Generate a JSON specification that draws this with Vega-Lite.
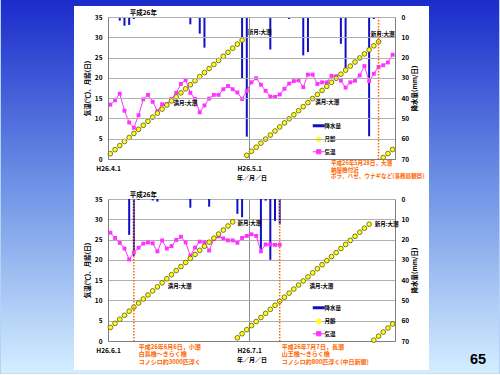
{
"$schema": "https://vega.github.io/schema/vega-lite/v6.json",
"padding": 0,
"background": "#b4d2f6",
"bounds": "flush",
"spacing": 40,
"config": {
  "font": "Noto Sans CJK JP",
  "view": {"stroke": null},
  "scale": {"continuousPadding": 0},
  "axis": {"labelFont": "Noto Sans CJK JP", "labelFontSize": 6.5, "labelFontWeight": "bold", "labelColor": "#000000", "titleFont": "Noto Sans CJK JP", "titleFontSize": 6.5, "titleFontWeight": "bold", "titleColor": "#000000", "ticks": false, "domainColor": "#7f7f7f", "gridColor": "#b0b0b0", "gridWidth": 1, "labelOverlap": false},
  "text": {"font": "Noto Sans CJK JP", "fontWeight": "bold", "color": "#000000"}
},
"resolve": {"scale": {"color": "independent"}, "legend": {"color": "independent"}},
"vconcat": [
{
  "width": 287, "height": 142,
  "data": {"values": [
    {"date":"2014-04-01","t":13.4,"m":1.3},
    {"date":"2014-04-02","t":14.5,"m":2.3},
    {"date":"2014-04-03","t":16.1,"m":3.3,"p":1.8},
    {"date":"2014-04-04","t":11.9,"m":4.3,"p":4.3},
    {"date":"2014-04-05","t":9.0,"m":5.3,"p":3.9},
    {"date":"2014-04-06","t":7.7,"m":6.3,"p":1.0},
    {"date":"2014-04-07","t":10.8,"m":7.3},
    {"date":"2014-04-08","t":14.7,"m":8.3},
    {"date":"2014-04-09","t":15.8,"m":9.3},
    {"date":"2014-04-10","t":14.1,"m":10.3},
    {"date":"2014-04-11","t":11.8,"m":11.3},
    {"date":"2014-04-12","t":13.5,"m":12.3},
    {"date":"2014-04-13","t":13.5,"m":13.3},
    {"date":"2014-04-14","t":14.8,"m":14.3},
    {"date":"2014-04-15","t":16.3,"m":15.3},
    {"date":"2014-04-16","t":18.5,"m":16.3},
    {"date":"2014-04-17","t":19.5,"m":17.3},
    {"date":"2014-04-18","t":16.3,"m":18.3,"p":3.6},
    {"date":"2014-04-19","t":14.8,"m":19.3},
    {"date":"2014-04-20","t":11.5,"m":20.3,"p":8.2},
    {"date":"2014-04-21","t":13.2,"m":21.3,"p":15.1},
    {"date":"2014-04-22","t":14.9,"m":22.3},
    {"date":"2014-04-23","t":15.8,"m":23.3},
    {"date":"2014-04-24","t":15.8,"m":24.3},
    {"date":"2014-04-25","t":17.2,"m":25.3},
    {"date":"2014-04-26","t":18.0,"m":26.3},
    {"date":"2014-04-27","t":17.2,"m":27.3},
    {"date":"2014-04-28","t":16.4,"m":28.3,"p":0.5},
    {"date":"2014-04-29","t":14.8,"m":29.3,"p":30.5},
    {"date":"2014-04-30","t":16.8,"m":0.9,"p":59},
    {"date":"2014-05-01","t":18.9,"m":1.9},
    {"date":"2014-05-02","t":19.9,"m":2.9},
    {"date":"2014-05-03","t":18.3,"m":3.9},
    {"date":"2014-05-04","t":16.8,"m":4.9},
    {"date":"2014-05-05","t":15.4,"m":5.9,"p":16},
    {"date":"2014-05-06","t":15.3,"m":6.9},
    {"date":"2014-05-07","t":15.9,"m":7.9},
    {"date":"2014-05-08","t":17.3,"m":8.9},
    {"date":"2014-05-09","t":18.6,"m":9.9,"p":1},
    {"date":"2014-05-10","t":19.2,"m":10.9},
    {"date":"2014-05-11","t":19.4,"m":11.9},
    {"date":"2014-05-12","t":17.7,"m":12.9,"p":18.9},
    {"date":"2014-05-13","t":20.8,"m":13.9,"p":17.3},
    {"date":"2014-05-14","t":20.8,"m":14.9},
    {"date":"2014-05-15","t":18.5,"m":15.9,"p":0.5},
    {"date":"2014-05-16","t":18.9,"m":16.9},
    {"date":"2014-05-17","t":18.9,"m":17.9},
    {"date":"2014-05-18","t":20.5,"m":18.9},
    {"date":"2014-05-19","t":20.4,"m":19.9},
    {"date":"2014-05-20","t":19.3,"m":20.9,"p":13.2},
    {"date":"2014-05-21","t":17.6,"m":21.9,"p":25.5},
    {"date":"2014-05-22","t":18.9,"m":22.9},
    {"date":"2014-05-23","t":19.3,"m":23.9},
    {"date":"2014-05-24","t":20.6,"m":24.9},
    {"date":"2014-05-25","t":22.9,"m":25.9},
    {"date":"2014-05-26","t":19.2,"m":26.9,"p":58.8},
    {"date":"2014-05-27","t":21.0,"m":27.9,"p":1},
    {"date":"2014-05-28","t":22.7,"m":28.9},
    {"date":"2014-05-29","t":23.1,"m":0.35},
    {"date":"2014-05-30","t":23.8,"m":1.35},
    {"date":"2014-05-31","t":25.7,"m":2.35}
  ]},
  "resolve": {"scale": {"y": "independent"}, "axis": {"x": "independent", "y": "independent"}},
  "layer": [
    {"resolve": {"axis": {"x": "independent", "y": "independent"}},
     "layer": [
      {"data": {"values": [{}]},
       "mark": {"type": "rect", "fill": {"x1": 0, "y1": 0, "x2": 0, "y2": 1, "gradient": "linear", "stops": [{"offset": 0, "color": "#1a2bcb"}, {"offset": 0.5, "color": "#6f93e6"}, {"offset": 1, "color": "#d4eeff"}]}, "opacity": 1},
       "encoding": {
         "x": {"datum": {"year": 2014, "month": 3, "date": 8, "hours": 18, "minutes": 11, "utc": true}, "type": "temporal", "axis": null, "scale": {"type": "utc", "domain": [{"year": 2014, "month": 3, "date": 31, "hours": 12, "utc": true}, {"year": 2014, "month": 5, "date": 31, "hours": 12, "utc": true}]}},
         "x2": {"datum": {"year": 2014, "month": 6, "date": 22, "hours": 14, "minutes": 31, "utc": true}},
         "y": {"datum": -8.38, "type": "quantitative", "axis": null, "scale": {"domain": [0, 70], "reverse": true}},
         "y2": {"datum": 175.7}
       }},
      {"data": {"values": [{}]},
       "mark": {"type": "rect", "fill": "#ffffff", "opacity": 1},
       "encoding": {
         "x": {"datum": {"year": 2014, "month": 3, "date": 24, "hours": 6, "minutes": 34, "utc": true}, "type": "temporal", "axis": null, "scale": {"type": "utc", "domain": [{"year": 2014, "month": 3, "date": 31, "hours": 12, "utc": true}, {"year": 2014, "month": 5, "date": 31, "hours": 12, "utc": true}]}},
         "x2": {"datum": {"year": 2014, "month": 6, "date": 7, "hours": 17, "minutes": 26, "utc": true}},
         "y": {"datum": -5.42, "type": "quantitative", "axis": null, "scale": {"domain": [0, 70], "reverse": true}},
         "y2": {"datum": 174.01}
       }},
      {"mark": {"type": "bar", "size": 2},
       "encoding": {
         "x": {"field": "date", "type": "temporal", "axis": null, "scale": {"type": "utc", "domain": [{"year": 2014, "month": 3, "date": 31, "hours": 12, "utc": true}, {"year": 2014, "month": 5, "date": 31, "hours": 12, "utc": true}]}},
         "y": {"field": "p", "type": "quantitative", "scale": {"domain": [0, 70], "reverse": true}, "axis": {"orient": "right", "values": [0, 10, 20, 30, 40, 50, 60, 70], "grid": false, "title": "降水量(mm/日)", "titleAngle": 270, "titleBaseline": "top", "labelPadding": 6, "titlePadding": 3, "labelOverlap": false, "zindex": 1}},
         "color": {"datum": "降水量", "type": "nominal", "scale": {"domain": ["降水量", "月齢", "気温"], "range": ["#1010c8", "#ffff1a", "#ff33ff"]}}
       }}
    ]},
    {"resolve": {"axis": {"x": "independent", "y": "independent"}},
     "layer": [
      {"mark": {"type": "line", "strokeWidth": 1, "point": {"shape": "square", "size": 15, "filled": true, "opacity": 1}},
       "encoding": {
         "x": {"field": "date", "type": "temporal", "scale": {"type": "utc", "domain": [{"year": 2014, "month": 3, "date": 31, "hours": 12, "utc": true}, {"year": 2014, "month": 5, "date": 31, "hours": 12, "utc": true}]},
               "axis": {"orient": "bottom", "values": [{"year": 2014, "month": 3, "date": 31, "hours": 12, "utc": true}, {"year": 2014, "month": 4, "date": 30, "hours": 12, "utc": true}], "labelExpr": "'H26.' + (utcmonth(datum.value + 43200000) + 1) + '.' + utcdate(datum.value + 43200000)", "labelFlush": false, "labelOverlap": false, "labelPadding": 6, "labelDx": 2, "title": "年／月／日", "titleFontSize": 6, "titlePadding": 3, "grid": true, "gridColor": "#8c8c8c", "zindex": 1}},
         "y": {"field": "t", "type": "quantitative", "scale": {"domain": [0, 35]}, "axis": {"orient": "left", "values": [0, 5, 10, 15, 20, 25, 30, 35], "grid": true, "title": "気温(℃)、月齢(日)", "labelPadding": 6, "titlePadding": 4, "labelOverlap": false, "zindex": 1}},
         "color": {"datum": "気温", "type": "nominal", "scale": {"domain": ["降水量", "月齢", "気温"], "range": ["#1010c8", "#ffff1a", "#ff33ff"]},
                   "legend": {"orient": "none", "legendX": 208, "legendY": 106, "title": null, "padding": 0, "symbolSize": 64, "labelFont": "Noto Sans CJK JP", "labelFontSize": 5.5, "labelFontWeight": "bold", "labelColor": "#000000", "rowPadding": 2.5, "labelOffset": 3,
                     "encode": {"symbols": {"update": {
                       "shape": {"signal": "datum.value === '降水量' ? 'stroke' : datum.value === '月齢' ? 'circle' : 'M-1,0H1M-0.35,-0.35H0.35V0.35H-0.35Z'"},
                       "size": {"signal": "datum.value === '月齢' ? 22 : 144"},
                       "fill": {"signal": "datum.value === '降水量' ? 'transparent' : datum.value === '月齢' ? '#ffff1a' : '#ff33ff'"},
                       "stroke": {"signal": "datum.value === '降水量' ? '#1010c8' : datum.value === '月齢' ? '#5a5a00' : '#ff33ff'"},
                       "strokeWidth": {"signal": "datum.value === '降水量' ? 3 : 1"},
                       "opacity": {"value": 1}
                     }}}}}
       }},
      {"mark": {"type": "point", "filled": true, "size": 22, "stroke": "#5a5a00", "strokeWidth": 0.8, "opacity": 1},
       "encoding": {
         "x": {"field": "date", "type": "temporal", "axis": null, "scale": {"type": "utc", "domain": [{"year": 2014, "month": 3, "date": 31, "hours": 12, "utc": true}, {"year": 2014, "month": 5, "date": 31, "hours": 12, "utc": true}]}},
         "y": {"field": "m", "type": "quantitative", "axis": null, "scale": {"domain": [0, 35]}},
         "color": {"datum": "月齢", "type": "nominal", "scale": {"domain": ["降水量", "月齢", "気温"], "range": ["#1010c8", "#ffff1a", "#ff33ff"]}}
       }},
      {"data": {"values": [{}]},
       "mark": {"type": "rule", "color": "#ff6600", "strokeDash": [1.5, 1.5], "strokeWidth": 1.5},
       "encoding": {"x": {"datum": {"year": 2014, "month": 5, "date": 28, "utc": true}, "type": "temporal", "axis": null, "scale": {"type": "utc", "domain": [{"year": 2014, "month": 3, "date": 31, "hours": 12, "utc": true}, {"year": 2014, "month": 5, "date": 31, "hours": 12, "utc": true}]}}}},
      {"data": {"values": [{}]},
       "mark": {"type": "text", "text": "平成26年", "fontSize": 6.5, "baseline": "bottom", "dy": -1.5},
       "encoding": {"x": {"datum": {"year": 2014, "month": 4, "date": 8, "utc": true}, "type": "temporal", "axis": null, "scale": {"type": "utc", "domain": [{"year": 2014, "month": 3, "date": 31, "hours": 12, "utc": true}, {"year": 2014, "month": 5, "date": 31, "hours": 12, "utc": true}]}}, "y": {"datum": 35, "type": "quantitative", "axis": null, "scale": {"domain": [0, 35]}}}},
      {"data": {"values": [{}]},
       "mark": {"type": "text", "text": "新月:大潮", "fontSize": 5.5, "align": "left", "baseline": "middle", "dx": 1},
       "encoding": {"x": {"datum": {"year": 2014, "month": 4, "date": 30, "utc": true}, "type": "temporal", "axis": null, "scale": {"type": "utc", "domain": [{"year": 2014, "month": 3, "date": 31, "hours": 12, "utc": true}, {"year": 2014, "month": 5, "date": 31, "hours": 12, "utc": true}]}}, "y": {"datum": 31.2, "type": "quantitative", "axis": null, "scale": {"domain": [0, 35]}}}},
      {"data": {"values": [{}]},
       "mark": {"type": "text", "text": "新月:大潮", "fontSize": 5.5, "align": "left", "baseline": "middle", "dx": -3},
       "encoding": {"x": {"datum": {"year": 2014, "month": 5, "date": 27, "utc": true}, "type": "temporal", "axis": null, "scale": {"type": "utc", "domain": [{"year": 2014, "month": 3, "date": 31, "hours": 12, "utc": true}, {"year": 2014, "month": 5, "date": 31, "hours": 12, "utc": true}]}}, "y": {"datum": 30.9, "type": "quantitative", "axis": null, "scale": {"domain": [0, 35]}}}},
      {"data": {"values": [{}]},
       "mark": {"type": "text", "text": "満月:大潮", "fontSize": 5.5, "align": "left", "baseline": "middle", "dx": 2},
       "encoding": {"x": {"datum": {"year": 2014, "month": 4, "date": 14, "utc": true}, "type": "temporal", "axis": null, "scale": {"type": "utc", "domain": [{"year": 2014, "month": 3, "date": 31, "hours": 12, "utc": true}, {"year": 2014, "month": 5, "date": 31, "hours": 12, "utc": true}]}}, "y": {"datum": 13.7, "type": "quantitative", "axis": null, "scale": {"domain": [0, 35]}}}},
      {"data": {"values": [{}]},
       "mark": {"type": "text", "text": "満月:大潮", "fontSize": 5.5, "align": "left", "baseline": "middle", "dx": -2},
       "encoding": {"x": {"datum": {"year": 2014, "month": 5, "date": 15, "utc": true}, "type": "temporal", "axis": null, "scale": {"type": "utc", "domain": [{"year": 2014, "month": 3, "date": 31, "hours": 12, "utc": true}, {"year": 2014, "month": 5, "date": 31, "hours": 12, "utc": true}]}}, "y": {"datum": 14.0, "type": "quantitative", "axis": null, "scale": {"domain": [0, 35]}}}},
      {"data": {"values": [{}]},
       "mark": {"type": "text", "text": ["平成26年5月28日，大潮", "納屋橋付近", "ボラ、ハゼ、ウナギなど(事務局観察)"], "fontSize": 5.6, "lineHeight": 6.6, "align": "left", "baseline": "top", "dx": -47.6, "dy": 2, "color": "#ff6600"},
       "encoding": {"x": {"datum": {"year": 2014, "month": 5, "date": 28, "utc": true}, "type": "temporal", "axis": null, "scale": {"type": "utc", "domain": [{"year": 2014, "month": 3, "date": 31, "hours": 12, "utc": true}, {"year": 2014, "month": 5, "date": 31, "hours": 12, "utc": true}]}}, "y": {"datum": 0, "type": "quantitative", "axis": null, "scale": {"domain": [0, 35]}}}}
    ]}
  ]
},
{
  "width": 287, "height": 142,
  "data": {"values": [
    {"date":"2014-06-01","t":26.7,"m":3.35},
    {"date":"2014-06-02","t":25.4,"m":4.35},
    {"date":"2014-06-03","t":24.2,"m":5.35},
    {"date":"2014-06-04","t":22.8,"m":6.35},
    {"date":"2014-06-05","t":20.1,"m":7.35,"p":17.7},
    {"date":"2014-06-06","t":21.8,"m":8.35,"p":28},
    {"date":"2014-06-07","t":23.0,"m":9.35,"p":0.5},
    {"date":"2014-06-08","t":24.0,"m":10.35},
    {"date":"2014-06-09","t":24.3,"m":11.35},
    {"date":"2014-06-10","t":24.1,"m":12.35,"p":0.7},
    {"date":"2014-06-11","t":22.1,"m":13.35,"p":1.3},
    {"date":"2014-06-12","t":24.8,"m":14.35},
    {"date":"2014-06-13","t":22.8,"m":15.35},
    {"date":"2014-06-14","t":23.4,"m":16.35},
    {"date":"2014-06-15","t":24.9,"m":17.35},
    {"date":"2014-06-16","t":25.7,"m":18.35},
    {"date":"2014-06-17","t":24.3,"m":19.35},
    {"date":"2014-06-18","t":21.0,"m":20.35,"p":4.3},
    {"date":"2014-06-19","t":23.0,"m":21.35},
    {"date":"2014-06-20","t":24.5,"m":22.35},
    {"date":"2014-06-21","t":24.3,"m":23.35},
    {"date":"2014-06-22","t":22.3,"m":24.35,"p":3.8},
    {"date":"2014-06-23","t":25.1,"m":25.35},
    {"date":"2014-06-24","t":25.8,"m":26.35},
    {"date":"2014-06-25","t":25.3,"m":27.35},
    {"date":"2014-06-26","t":24.8,"m":28.35},
    {"date":"2014-06-27","t":24.8,"m":29.35},
    {"date":"2014-06-28","t":24.2,"m":0.8,"p":7.3},
    {"date":"2014-06-29","t":25.4,"m":1.8,"p":9},
    {"date":"2014-06-30","t":25.9,"m":2.8},
    {"date":"2014-07-01","t":26.3,"m":3.8},
    {"date":"2014-07-02","t":25.9,"m":4.8},
    {"date":"2014-07-03","t":22.1,"m":5.8,"p":25},
    {"date":"2014-07-04","t":23.8,"m":6.8,"p":0.8},
    {"date":"2014-07-05","t":23.8,"m":7.8,"p":30},
    {"date":"2014-07-06","t":23.7,"m":8.8,"p":10.8},
    {"date":"2014-07-07","t":23.7,"m":9.8,"p":12.5},
    {"date":"2014-07-08","m":10.8},
    {"date":"2014-07-09","m":11.8},
    {"date":"2014-07-10","m":12.8},
    {"date":"2014-07-11","m":13.8},
    {"date":"2014-07-12","m":14.8},
    {"date":"2014-07-13","m":15.8},
    {"date":"2014-07-14","m":16.8},
    {"date":"2014-07-15","m":17.8},
    {"date":"2014-07-16","m":18.8},
    {"date":"2014-07-17","m":19.8},
    {"date":"2014-07-18","m":20.8},
    {"date":"2014-07-19","m":21.8},
    {"date":"2014-07-20","m":22.8},
    {"date":"2014-07-21","m":23.8},
    {"date":"2014-07-22","m":24.8},
    {"date":"2014-07-23","m":25.8},
    {"date":"2014-07-24","m":26.8},
    {"date":"2014-07-25","m":27.8},
    {"date":"2014-07-26","m":28.8},
    {"date":"2014-07-27","m":0.2},
    {"date":"2014-07-28","m":1.2},
    {"date":"2014-07-29","m":2.2},
    {"date":"2014-07-30","m":3.2},
    {"date":"2014-07-31","m":4.2}
  ]},
  "resolve": {"scale": {"y": "independent"}, "axis": {"x": "independent", "y": "independent"}},
  "layer": [
    {"resolve": {"axis": {"x": "independent", "y": "independent"}},
     "layer": [
      {"mark": {"type": "bar", "size": 2},
       "encoding": {
         "x": {"field": "date", "type": "temporal", "axis": null, "scale": {"type": "utc", "domain": [{"year": 2014, "month": 5, "date": 31, "hours": 12, "utc": true}, {"year": 2014, "month": 7, "date": 31, "hours": 12, "utc": true}]}},
         "y": {"field": "p", "type": "quantitative", "scale": {"domain": [0, 70], "reverse": true}, "axis": {"orient": "right", "values": [0, 10, 20, 30, 40, 50, 60, 70], "grid": false, "title": "降水量(mm/日)", "titleAngle": 270, "titleBaseline": "top", "labelPadding": 6, "titlePadding": 3, "labelOverlap": false}},
         "color": {"datum": "降水量", "type": "nominal", "scale": {"domain": ["降水量", "月齢", "気温"], "range": ["#1010c8", "#ffff1a", "#ff33ff"]}}
       }}
    ]},
    {"resolve": {"axis": {"x": "independent", "y": "independent"}},
     "layer": [
      {"mark": {"type": "line", "strokeWidth": 1, "point": {"shape": "square", "size": 15, "filled": true, "opacity": 1}},
       "encoding": {
         "x": {"field": "date", "type": "temporal", "scale": {"type": "utc", "domain": [{"year": 2014, "month": 5, "date": 31, "hours": 12, "utc": true}, {"year": 2014, "month": 7, "date": 31, "hours": 12, "utc": true}]},
               "axis": {"orient": "bottom", "values": [{"year": 2014, "month": 5, "date": 31, "hours": 12, "utc": true}, {"year": 2014, "month": 6, "date": 30, "hours": 12, "utc": true}], "labelExpr": "'H26.' + (utcmonth(datum.value + 43200000) + 1) + '.' + utcdate(datum.value + 43200000)", "labelFlush": false, "labelOverlap": false, "labelPadding": 6, "labelDx": 2, "title": "年／月／日", "titleFontSize": 6, "titlePadding": 3, "grid": true, "gridColor": "#8c8c8c"}},
         "y": {"field": "t", "type": "quantitative", "scale": {"domain": [0, 35]}, "axis": {"orient": "left", "values": [0, 5, 10, 15, 20, 25, 30, 35], "grid": true, "title": "気温(℃)、月齢(日)", "labelPadding": 6, "titlePadding": 4, "labelOverlap": false}},
         "color": {"datum": "気温", "type": "nominal", "scale": {"domain": ["降水量", "月齢", "気温"], "range": ["#1010c8", "#ffff1a", "#ff33ff"]},
                   "legend": {"orient": "none", "legendX": 208, "legendY": 106, "title": null, "padding": 0, "symbolSize": 64, "labelFont": "Noto Sans CJK JP", "labelFontSize": 5.5, "labelFontWeight": "bold", "labelColor": "#000000", "rowPadding": 2.5, "labelOffset": 3,
                     "encode": {"symbols": {"update": {
                       "shape": {"signal": "datum.value === '降水量' ? 'stroke' : datum.value === '月齢' ? 'circle' : 'M-1,0H1M-0.35,-0.35H0.35V0.35H-0.35Z'"},
                       "size": {"signal": "datum.value === '月齢' ? 22 : 144"},
                       "fill": {"signal": "datum.value === '降水量' ? 'transparent' : datum.value === '月齢' ? '#ffff1a' : '#ff33ff'"},
                       "stroke": {"signal": "datum.value === '降水量' ? '#1010c8' : datum.value === '月齢' ? '#5a5a00' : '#ff33ff'"},
                       "strokeWidth": {"signal": "datum.value === '降水量' ? 3 : 1"},
                       "opacity": {"value": 1}
                     }}}}}
       }},
      {"mark": {"type": "point", "filled": true, "size": 22, "stroke": "#5a5a00", "strokeWidth": 0.8, "opacity": 1},
       "encoding": {
         "x": {"field": "date", "type": "temporal", "axis": null, "scale": {"type": "utc", "domain": [{"year": 2014, "month": 5, "date": 31, "hours": 12, "utc": true}, {"year": 2014, "month": 7, "date": 31, "hours": 12, "utc": true}]}},
         "y": {"field": "m", "type": "quantitative", "axis": null, "scale": {"domain": [0, 35]}},
         "color": {"datum": "月齢", "type": "nominal", "scale": {"domain": ["降水量", "月齢", "気温"], "range": ["#1010c8", "#ffff1a", "#ff33ff"]}}
       }},
      {"data": {"values": [{}]},
       "mark": {"type": "rule", "color": "#ff6600", "strokeDash": [1.5, 1.5], "strokeWidth": 1.5},
       "encoding": {"x": {"datum": {"year": 2014, "month": 6, "date": 6, "utc": true}, "type": "temporal", "axis": null, "scale": {"type": "utc", "domain": [{"year": 2014, "month": 5, "date": 31, "hours": 12, "utc": true}, {"year": 2014, "month": 7, "date": 31, "hours": 12, "utc": true}]}}}},
      {"data": {"values": [{}]},
       "mark": {"type": "rule", "color": "#ff6600", "strokeDash": [1.5, 1.5], "strokeWidth": 1.5},
       "encoding": {"x": {"datum": {"year": 2014, "month": 7, "date": 7, "utc": true}, "type": "temporal", "axis": null, "scale": {"type": "utc", "domain": [{"year": 2014, "month": 5, "date": 31, "hours": 12, "utc": true}, {"year": 2014, "month": 7, "date": 31, "hours": 12, "utc": true}]}}}},
      {"data": {"values": [{}]},
       "mark": {"type": "text", "text": "平成26年", "fontSize": 6.5, "baseline": "bottom", "dy": -1.5},
       "encoding": {"x": {"datum": {"year": 2014, "month": 6, "date": 8, "utc": true}, "type": "temporal", "axis": null, "scale": {"type": "utc", "domain": [{"year": 2014, "month": 5, "date": 31, "hours": 12, "utc": true}, {"year": 2014, "month": 7, "date": 31, "hours": 12, "utc": true}]}}, "y": {"datum": 35, "type": "quantitative", "axis": null, "scale": {"domain": [0, 35]}}}},
      {"data": {"values": [{}]},
       "mark": {"type": "text", "text": "新月:大潮", "fontSize": 5.5, "align": "left", "baseline": "middle", "dx": 0},
       "encoding": {"x": {"datum": {"year": 2014, "month": 6, "date": 28, "utc": true}, "type": "temporal", "axis": null, "scale": {"type": "utc", "domain": [{"year": 2014, "month": 5, "date": 31, "hours": 12, "utc": true}, {"year": 2014, "month": 7, "date": 31, "hours": 12, "utc": true}]}}, "y": {"datum": 29.0, "type": "quantitative", "axis": null, "scale": {"domain": [0, 35]}}}},
      {"data": {"values": [{}]},
       "mark": {"type": "text", "text": "新月:大潮", "fontSize": 5.5, "align": "left", "baseline": "middle", "dx": 1},
       "encoding": {"x": {"datum": {"year": 2014, "month": 7, "date": 27, "utc": true}, "type": "temporal", "axis": null, "scale": {"type": "utc", "domain": [{"year": 2014, "month": 5, "date": 31, "hours": 12, "utc": true}, {"year": 2014, "month": 7, "date": 31, "hours": 12, "utc": true}]}}, "y": {"datum": 28.85, "type": "quantitative", "axis": null, "scale": {"domain": [0, 35]}}}},
      {"data": {"values": [{}]},
       "mark": {"type": "text", "text": "満月:大潮", "fontSize": 5.5, "align": "left", "baseline": "middle", "dx": 1},
       "encoding": {"x": {"datum": {"year": 2014, "month": 6, "date": 13, "utc": true}, "type": "temporal", "axis": null, "scale": {"type": "utc", "domain": [{"year": 2014, "month": 5, "date": 31, "hours": 12, "utc": true}, {"year": 2014, "month": 7, "date": 31, "hours": 12, "utc": true}]}}, "y": {"datum": 13.6, "type": "quantitative", "axis": null, "scale": {"domain": [0, 35]}}}},
      {"data": {"values": [{}]},
       "mark": {"type": "text", "text": "満月:大潮", "fontSize": 5.5, "align": "left", "baseline": "middle", "dx": 1.5},
       "encoding": {"x": {"datum": {"year": 2014, "month": 7, "date": 13, "utc": true}, "type": "temporal", "axis": null, "scale": {"type": "utc", "domain": [{"year": 2014, "month": 5, "date": 31, "hours": 12, "utc": true}, {"year": 2014, "month": 7, "date": 31, "hours": 12, "utc": true}]}}, "y": {"datum": 13.6, "type": "quantitative", "axis": null, "scale": {"domain": [0, 35]}}}},
      {"data": {"values": [{}]},
       "mark": {"type": "text", "text": ["平成26年6月6日，小潮", "白鳥橋～きらく橋", "コノシロ約3000匹浮く"], "fontSize": 6, "lineHeight": 7.7, "align": "left", "baseline": "top", "dx": 4.8, "dy": 2.5, "color": "#ff6600"},
       "encoding": {"x": {"datum": {"year": 2014, "month": 6, "date": 6, "utc": true}, "type": "temporal", "axis": null, "scale": {"type": "utc", "domain": [{"year": 2014, "month": 5, "date": 31, "hours": 12, "utc": true}, {"year": 2014, "month": 7, "date": 31, "hours": 12, "utc": true}]}}, "y": {"datum": 0, "type": "quantitative", "axis": null, "scale": {"domain": [0, 35]}}}},
      {"data": {"values": [{}]},
       "mark": {"type": "text", "text": ["平成26年7月7日，長潮", "山王橋～きらく橋", "コノシロ約800匹浮く(中日新聞)"], "fontSize": 6, "lineHeight": 7.7, "align": "left", "baseline": "top", "dx": 2, "dy": 2.5, "color": "#ff6600"},
       "encoding": {"x": {"datum": {"year": 2014, "month": 7, "date": 7, "utc": true}, "type": "temporal", "axis": null, "scale": {"type": "utc", "domain": [{"year": 2014, "month": 5, "date": 31, "hours": 12, "utc": true}, {"year": 2014, "month": 7, "date": 31, "hours": 12, "utc": true}]}}, "y": {"datum": 0, "type": "quantitative", "axis": null, "scale": {"domain": [0, 35]}}}},
      {"data": {"values": [{}]},
       "mark": {"type": "text", "text": "65", "font": "Liberation Sans", "fontSize": 14.5, "fontWeight": "bold", "align": "center", "baseline": "middle", "dx": 85.4, "dy": 19},
       "encoding": {"x": {"datum": {"year": 2014, "month": 7, "date": 31, "utc": true}, "type": "temporal", "axis": null, "scale": {"type": "utc", "domain": [{"year": 2014, "month": 5, "date": 31, "hours": 12, "utc": true}, {"year": 2014, "month": 7, "date": 31, "hours": 12, "utc": true}]}}, "y": {"datum": 0, "type": "quantitative", "axis": null, "scale": {"domain": [0, 35]}}}}
    ]}
  ]
}
]
}
